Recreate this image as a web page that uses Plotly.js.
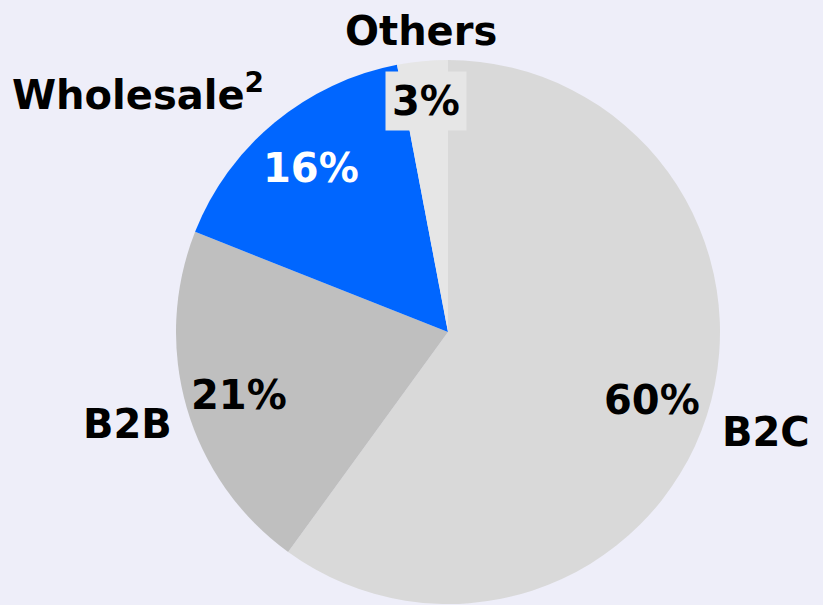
<!DOCTYPE html>
<html>
<head>
<meta charset="utf-8">
<script src="https://cdn.plot.ly/plotly-3.0.1.min.js"></script>
<style>html,body{margin:0;padding:0;background:#EEEEF9;}#chart{width:823px;height:605px;}</style>
</head>
<body>
<div id="chart"></div>
<script>
var categories = ["B2C", "B2B", "Wholesale<sup>2</sup>", "Others"];
var shares = [60, 21, 16, 3];
var sliceColors = ["#D9D9D9", "#BFBFBF", "#0066FF", "#E6E6E6"];
var pctColors = ["#000000", "#000000", "#FFFFFF", "#000000"];

var W = 823, H = 605;
var cx = 448, cy = 332, R = 272;
var FONT = "'DejaVu Sans', 'Liberation Sans', Arial, sans-serif";
var FS = 40;

var total = shares.reduce(function(a, b) { return a + b; }, 0);
var annotations = [];
var cum = 0;
var pctRadius = [0.79, 0.80, 0.79, 0.86];
shares.forEach(function(v, i) {
  var mid = (cum + v / 2) / total * 2 * Math.PI;
  cum += v;
  var s = Math.sin(mid), c = Math.cos(mid);
  var kp = pctRadius[i];
  var px = cx + kp * R * s, py = cy - kp * R * c;
  var ann = {
    x: px / W, y: 1 - py / H, xref: "paper", yref: "paper",
    text: "<b>" + v + "%</b>", showarrow: false,
    xanchor: "center", yanchor: "middle",
    yshift: -2,
    font: {family: FONT, size: FS, color: pctColors[i]}
  };
  if (v < 5) { ann.bgcolor = sliceColors[i]; ann.borderpad = 6; }
  annotations.push(ann);
  var ko = 1.05;
  var lx = cx + ko * R * s, ly = cy - ko * R * c;
  var yanc = c > 0.5 ? "bottom" : (c < -0.5 ? "top" : "middle");
  annotations.push({
    x: lx / W, y: 1 - ly / H, xref: "paper", yref: "paper",
    text: "<b>" + categories[i] + "</b>", showarrow: false,
    xanchor: s > 0.5 ? "left" : (s < -0.5 ? "right" : "center"),
    yanchor: yanc,
    yshift: yanc === "bottom" ? -8 : (yanc === "middle" ? -12 : 0),
    font: {family: FONT, size: FS, color: "#000000"}
  });
});

var trace = {
  type: "pie",
  labels: categories,
  values: shares,
  sort: false,
  direction: "clockwise",
  rotation: 0,
  textinfo: "none",
  hoverinfo: "label+percent",
  marker: {colors: sliceColors, line: {width: 0}},
  domain: {x: [(cx - R) / W, (cx + R) / W], y: [1 - (cy + R) / H, 1 - (cy - R) / H]},
  showlegend: false
};

var layout = {
  width: W, height: H,
  margin: {l: 0, r: 0, t: 0, b: 0},
  paper_bgcolor: "#EEEEF9",
  plot_bgcolor: "#EEEEF9",
  showlegend: false,
  annotations: annotations
};

Plotly.newPlot("chart", [trace], layout, {displayModeBar: false, staticPlot: true});
</script>
</body>
</html>
